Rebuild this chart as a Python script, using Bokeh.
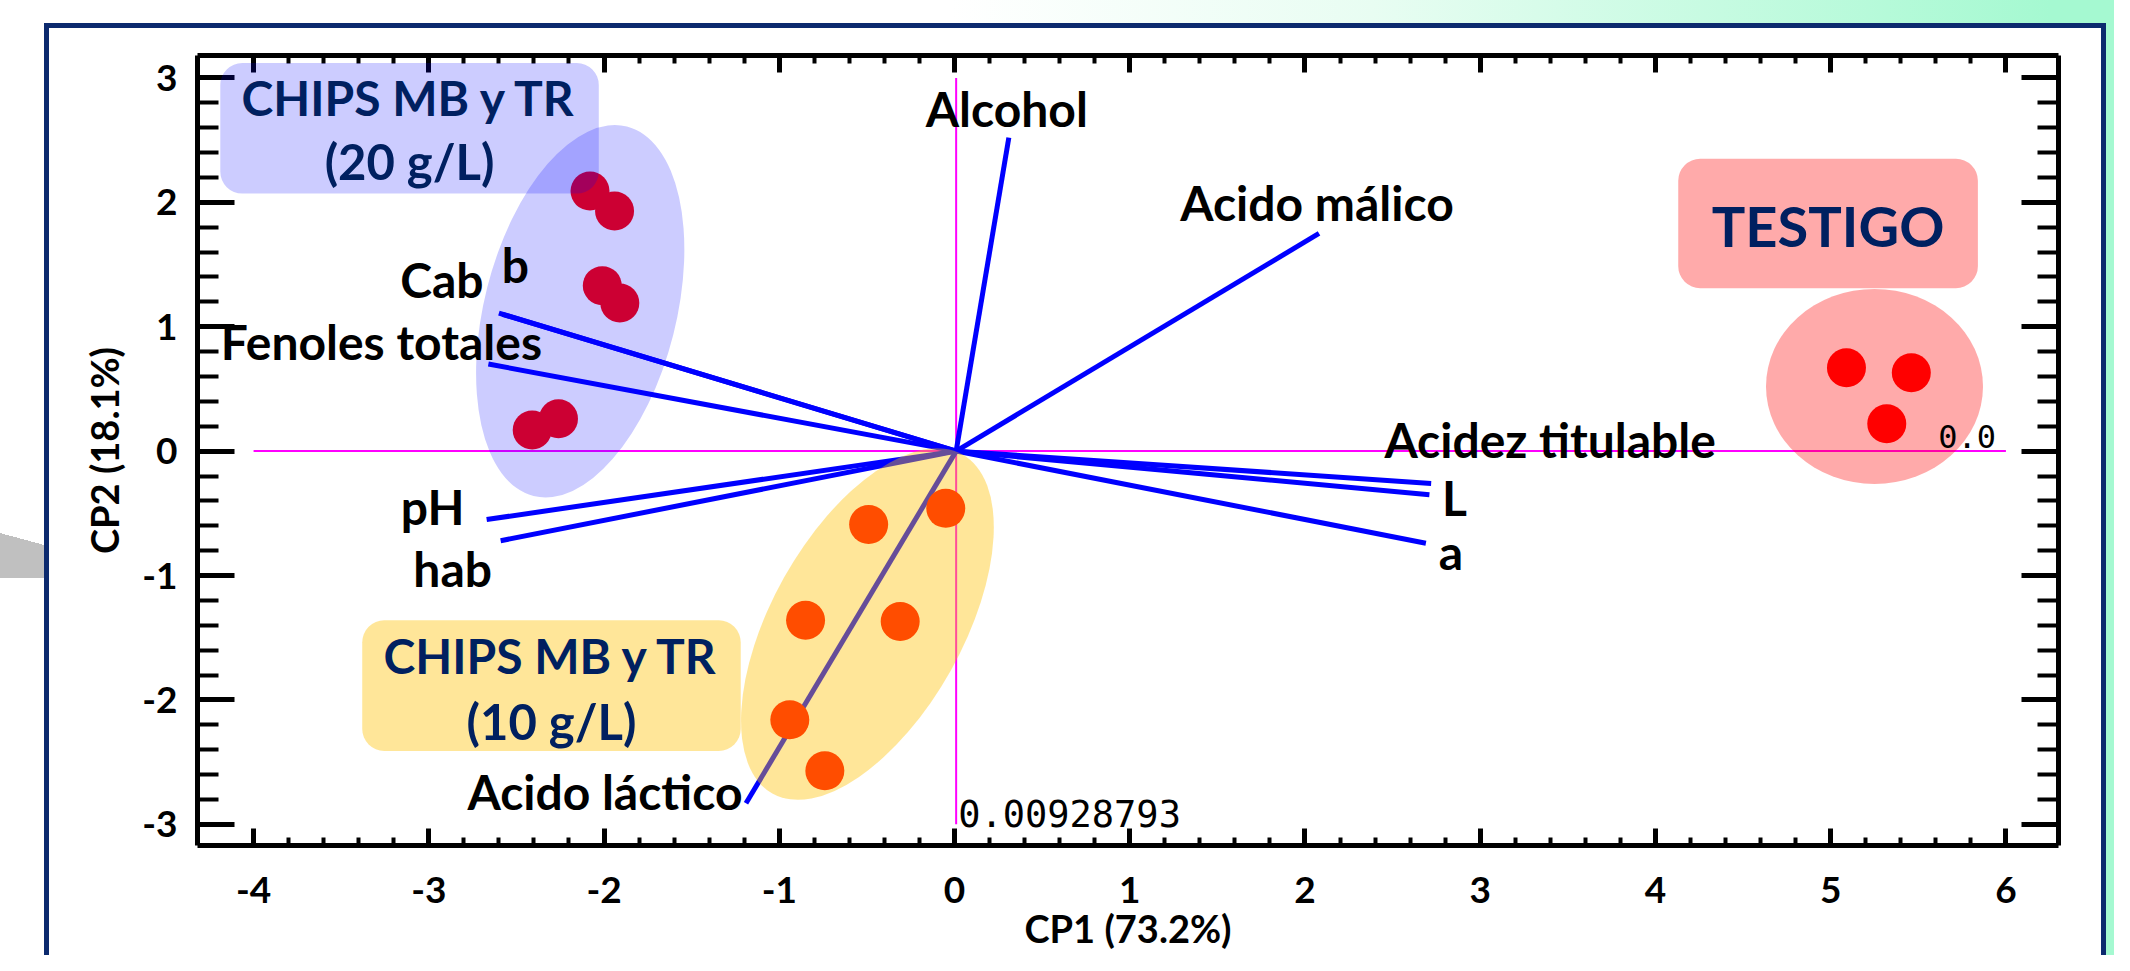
import math
from bokeh.plotting import figure
from bokeh.models import (Range1d, LinearAxis, FixedTicker, BoxAnnotation, Label,
                          CustomJSTickFormatter, ColumnDataSource)
from bokeh.core.properties import value
from bokeh.embed import file_html
from bokeh.resources import INLINE

# ---------------- data ----------------
# PCA scores
g20_x = [-2.08, -1.94, -2.01, -1.91, -2.41, -2.26]   # CHIPS MB y TR (20 g/L)
g20_y = [2.09, 1.93, 1.33, 1.19, 0.17, 0.26]
g10_x = [-0.49, -0.05, -0.85, -0.31, -0.94, -0.74]   # CHIPS MB y TR (10 g/L)
g10_y = [-0.59, -0.46, -1.36, -1.37, -2.16, -2.57]
test_x = [5.09, 5.46, 5.32]                          # TESTIGO
test_y = [0.67, 0.63, 0.22]

# loadings (vectors from the origin)
var_names = ["Alcohol", "Acido málico", "Cab", "b", "Fenoles totales", "pH",
             "hab", "Acido láctico", "Acidez titulable", "L", "a"]
load_x = [0.31, 2.08, -2.60, -2.58, -2.66, -2.67, -2.59, -1.19, 2.72, 2.71, 2.69]
load_y = [2.52, 1.75, 1.11, 1.10, 0.70, -0.55, -0.72, -2.83, -0.26, -0.35, -0.74]

origin_x = 0.00928793
x_ticks = [-4, -3, -2, -1, 0, 1, 2, 3, 4, 5, 6]
y_ticks = [-3, -2, -1, 0, 1, 2, 3]
x_title = "CP1 (73.2%)"
y_title = "CP2 (18.1%)"

# group annotations
grp_text = ["CHIPS MB y TR", "(20 g/L)", "CHIPS MB y TR", "(10 g/L)", "TESTIGO"]

# ---------------- styling ----------------
FONT = "Lato"
NAVY = "#002060"

bg = ("linear-gradient(to bottom left, rgba(0,0,0,0) 50%, #c0c0c0 50%) 0px 533px / 44px 12px no-repeat, "
      "linear-gradient(#c0c0c0, #c0c0c0) 0px 545px / 44px 33px no-repeat, "
      "linear-gradient(#ffffff, #ffffff) 49px 28px / 2052px 960px no-repeat, "
      "linear-gradient(#0c2a6e, #0c2a6e) 44px 23px / 2062px 970px no-repeat, "
      "linear-gradient(to right, #ffffff 0%, #ffffff 45%, #e8fdf2 65%, #a5f9d1 97%, #a5f9d1 100%)")

p = figure(width=2114, height=955, title=None, output_backend="svg", toolbar_location=None,
           x_range=Range1d(-4.32, 6.30), y_range=Range1d(-3.17, 3.18),
           min_border_left=197, min_border_right=56, min_border_top=55, min_border_bottom=110,
           background_fill_color="white", border_fill_color=None, outline_line_color=None)
p.styles = {"background": bg}
p.grid.visible = False

x_minor = [t + k * 0.2 for t in x_ticks[:-1] for k in range(1, 5)]
y_minor = [t + k * 0.2 for t in y_ticks[:-1] for k in range(1, 5)]
xt = FixedTicker(ticks=x_ticks, minor_ticks=x_minor)
yt = FixedTicker(ticks=y_ticks, minor_ticks=y_minor)
plain = CustomJSTickFormatter(code="return tick.toString()")
blank = CustomJSTickFormatter(code="return ''")


def style_axis(ax, major_in, minor_in):
    ax.axis_line_width = 5
    ax.axis_line_color = "black"
    ax.major_tick_in = major_in
    ax.major_tick_out = 0
    ax.minor_tick_in = minor_in
    ax.minor_tick_out = 0
    ax.major_tick_line_width = 5
    ax.minor_tick_line_width = 4
    ax.major_tick_line_color = "black"
    ax.minor_tick_line_color = "black"
    ax.major_label_text_font = FONT
    ax.major_label_text_font_style = "bold"
    ax.major_label_text_font_size = "37px"
    ax.major_label_text_color = "black"
    ax.axis_label_text_font = FONT
    ax.axis_label_text_font_style = "bold"
    ax.axis_label_text_font_size = "38px"
    ax.axis_label_text_color = "black"


xa = p.xaxis[0]
xa.ticker = xt
xa.formatter = plain
xa.axis_label = x_title
xa.major_label_standoff = 31
xa.axis_label_standoff = -1
style_axis(xa, 17, 8)

ya = p.yaxis[0]
ya.ticker = yt
ya.formatter = plain
ya.axis_label = y_title
ya.major_label_standoff = 20
ya.axis_label_standoff = 12
style_axis(ya, 37, 21)

top = LinearAxis(ticker=xt, formatter=blank)
style_axis(top, 17, 8)
p.add_layout(top, "above")
right = LinearAxis(ticker=yt, formatter=blank)
style_axis(right, 37, 21)
p.add_layout(right, "right")

# magenta reference lines
p.line([x_ticks[0], x_ticks[-1]], [0, 0], line_color="#ff00ff", line_width=2)
p.line([origin_x, origin_x], [y_ticks[0], y_ticks[-1]], line_color="#ff00ff", line_width=2)

# loading vectors
n = len(var_names)
p.segment(x0=[origin_x] * n, y0=[0] * n, x1=load_x, y1=load_y,
          line_color="#0000ff", line_width=5)

# score points
p.scatter(g20_x, g20_y, size=39, fill_color="#ff0000", line_color=None)
p.scatter(g10_x, g10_y, size=39, fill_color="#ff0000", line_color=None)
p.scatter(test_x, test_y, size=39, fill_color="#ff0000", line_color=None)

# group ellipses (translucent, drawn over the marks)
p.ellipse(x=[-2.136], y=[1.124], width=192, height=381, angle=math.radians(-14.2),
          width_units="screen", height_units="screen",
          fill_color="#0000ff", fill_alpha=0.2, line_color=None)
p.ellipse(x=[-0.497], y=[-1.39], width=191, height=389, angle=math.radians(-29.3),
          width_units="screen", height_units="screen",
          fill_color="#ffc000", fill_alpha=0.4, line_color=None)
p.ellipse(x=[5.25], y=[0.52], width=217, height=195, angle=0,
          width_units="screen", height_units="screen",
          fill_color="#ff0000", fill_alpha=0.333, line_color=None)

# loading labels
lab_dx = [-2, -2, -57, 13, -107, -54, -48, -141, 119, 25, 25]
lab_dy = [-29, -31, -34, -50, -23, -13, 28, -12, -44, 3, 8]
src = ColumnDataSource(dict(x=load_x, y=load_y, t=var_names, dx=lab_dx, dy=lab_dy))
p.text(x="x", y="y", text="t", x_offset="dx", y_offset="dy", source=src,
       text_align="center", text_baseline="alphabetic", text_color="black",
       text_font=value(FONT), text_font_style="bold", text_font_size="48px")

# group label boxes
boxes = [(-4.19, -2.03, 3.12, 2.07, "#0000ff", 0.2),
         (-3.38, -1.22, -1.36, -2.41, "#ffc000", 0.4),
         (4.13, 5.84, 2.35, 1.31, "#ff0000", 0.333)]
for l, r, t, b, c, a in boxes:
    p.add_layout(BoxAnnotation(left=l, right=r, top=t, bottom=b, fill_color=c, fill_alpha=a,
                               line_color=None, border_radius=22))

txt_pos = [(-3.11, 2.84, 48), (-3.11, 2.33, 49), (-2.30, -1.646, 48), (-2.30, -2.167, 49),
           (4.985, 1.813, 56)]
for (x, y, s), t in zip(txt_pos, grp_text):
    p.add_layout(Label(x=x, y=y, text=t, text_align="center", text_baseline="alphabetic",
                       text_font=FONT, text_font_style="bold", text_font_size=f"{s}px",
                       text_color=NAVY))

# origin value labels
p.add_layout(Label(x=origin_x, y=-2.91, text="0.00928793", x_offset=2,
                   text_align="left", text_baseline="alphabetic",
                   text_font="DejaVu Sans Mono", text_font_size="37px", text_color="black"))
p.add_layout(Label(x=x_ticks[-1], y=0.12, text="0.0", x_offset=-10,
                   text_align="right", text_baseline="alphabetic",
                   text_font="DejaVu Sans Mono", text_font_size="32px", text_color="black"))

open("out.html", "w").write(file_html(p, INLINE))
